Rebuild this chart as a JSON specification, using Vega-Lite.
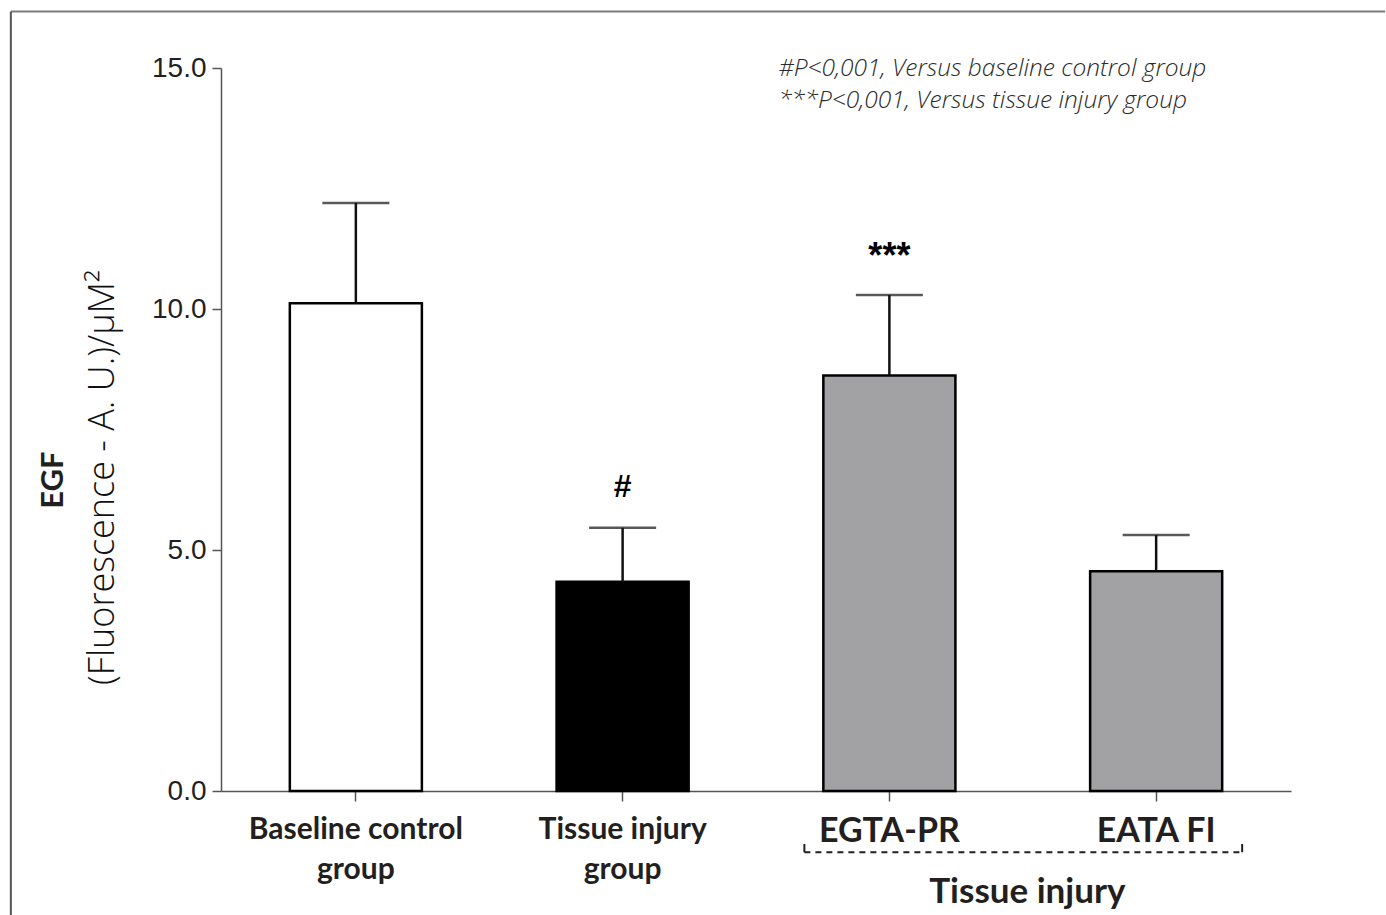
{
  "$schema": "https://vega.github.io/schema/vega-lite/v6.json",
  "width": 1070,
  "height": 723,
  "autosize": {"type": "none"},
  "padding": {"left": 221, "top": 68, "right": 95, "bottom": 124},
  "background": "white",
  "config": {"view": {"stroke": null}},
  "datasets": {
    "bars": [
      {"group": "Baseline control group", "mean": 10.12, "upper": 12.2, "sig": ""},
      {"group": "Tissue injury group", "mean": 4.34, "upper": 5.46, "sig": "#"},
      {"group": "EGTA-PR", "mean": 8.62, "upper": 10.29, "sig": "***"},
      {"group": "EATA FI", "mean": 4.56, "upper": 5.31, "sig": ""}
    ],
    "notes": [
      {"line": 1, "note": "#P<0,001, Versus baseline control group"},
      {"line": 2, "note": "***P<0,001, Versus tissue injury group"}
    ],
    "bracket": [
      {"from": "EGTA-PR", "to": "EATA FI", "label": "Tissue injury"}
    ],
    "frame": [
      {"from": "Baseline control group", "to": "EATA FI", "label": "EGF"}
    ]
  },
  "encoding": {
    "x": {
      "field": "group",
      "type": "nominal",
      "sort": ["Baseline control group", "Tissue injury group", "EGTA-PR", "EATA FI"],
      "scale": {"domain": ["Baseline control group", "Tissue injury group", "EGTA-PR", "EATA FI"], "paddingInner": 0.505, "paddingOuter": 0.258},
      "axis": {
        "title": null,
        "labelAngle": 0,
        "labelLimit": 0,
        "labelExpr": "datum.value == 'Baseline control group' ? ['Baseline control', 'group'] : datum.value == 'Tissue injury group' ? ['Tissue injury', 'group'] : datum.value",
        "labelFont": "Lato",
        "labelFontWeight": "bold",
        "labelFontSize": {"condition": {"test": "datum.value == 'EGTA-PR' || datum.value == 'EATA FI'", "value": 34}, "value": 30},
        "labelColor": "#231f20",
        "labelLineHeight": 40,
        "labelPadding": 13,
        "labelBaseline": "top",
        "domainColor": "#555555",
        "domainWidth": 1.5,
        "tickColor": "#555555",
        "tickWidth": 1.5,
        "tickSize": 10,
        "grid": false
      }
    }
  },
  "layer": [
    {
      "data": {"name": "frame"},
      "mark": {"type": "rule", "stroke": "#7a7a7a", "strokeWidth": 2, "xOffset": -345, "x2Offset": 229},
      "encoding": {
        "x": {"field": "from", "type": "nominal"},
        "x2": {"field": "to"},
        "y": {"datum": 16.17}
      }
    },
    {
      "data": {"name": "frame"},
      "mark": {"type": "rule", "stroke": "#555555", "strokeWidth": 2, "xOffset": -345},
      "encoding": {
        "x": {"field": "from", "type": "nominal"},
        "y": {"datum": 16.17},
        "y2": {"datum": -2.6}
      }
    },
    {
      "data": {"name": "frame"},
      "mark": {"type": "text", "font": "Lato", "fontWeight": "bold", "fontSize": 31, "color": "#231f20", "angle": 270, "align": "center", "baseline": "middle", "xOffset": -302},
      "encoding": {
        "x": {"field": "from", "type": "nominal"},
        "y": {"datum": 6.45},
        "text": {"field": "label"}
      }
    },
    {
      "data": {"name": "bars"},
      "mark": {"type": "bar", "stroke": "#000000", "strokeWidth": 2.5},
      "encoding": {
        "y": {
          "field": "mean",
          "type": "quantitative",
          "scale": {"domain": [0, 15], "nice": false},
          "axis": {
            "title": "(Fluorescence - A. U.)/µM²",
            "titleFont": "Open Sans",
            "titleFontSize": 36,
            "titleFontWeight": 300,
            "titleColor": "#111111",
            "titlePadding": 30,
            "titleY": 409,
            "values": [0, 5, 10, 15],
            "format": ".1f",
            "labelFont": "Liberation Sans",
            "labelFontSize": 28,
            "labelColor": "#231f20",
            "labelPadding": 6,
            "tickSize": 9,
            "tickColor": "#555555",
            "tickWidth": 1.5,
            "domainColor": "#555555",
            "domainWidth": 1.5,
            "grid": false
          }
        },
        "color": {
          "field": "group",
          "type": "nominal",
          "scale": {"domain": ["Baseline control group", "Tissue injury group", "EGTA-PR", "EATA FI"], "range": ["#ffffff", "#000000", "#a2a2a5", "#a2a2a5"]},
          "legend": null
        }
      }
    },
    {
      "data": {"name": "bars"},
      "mark": {"type": "rule", "stroke": "#111111", "strokeWidth": 2.5},
      "encoding": {
        "y": {"field": "mean", "type": "quantitative"},
        "y2": {"field": "upper"}
      }
    },
    {
      "data": {"name": "bars"},
      "mark": {"type": "tick", "color": "#111111", "size": 67, "thickness": 2.5, "orient": "horizontal"},
      "encoding": {
        "y": {"field": "upper", "type": "quantitative"}
      }
    },
    {
      "data": {"name": "bars"},
      "transform": [{"filter": "datum.sig == '#'"}],
      "mark": {"type": "text", "font": "Liberation Sans", "fontWeight": "bold", "fontSize": 32, "color": "#000000", "baseline": "alphabetic", "dy": -31},
      "encoding": {
        "y": {"field": "upper", "type": "quantitative"},
        "text": {"field": "sig"}
      }
    },
    {
      "data": {"name": "bars"},
      "transform": [{"filter": "datum.sig == '***'"}],
      "mark": {"type": "text", "font": "Liberation Sans", "fontWeight": "bold", "fontSize": 36, "color": "#000000", "baseline": "alphabetic", "dy": -27},
      "encoding": {
        "y": {"field": "upper", "type": "quantitative"},
        "text": {"field": "sig"}
      }
    },
    {
      "data": {"name": "notes"},
      "transform": [{"filter": "datum.line == 1"}],
      "mark": {"type": "text", "font": "Open Sans", "fontStyle": "italic", "fontWeight": 300, "fontSize": 24.5, "color": "#2a2a2a", "align": "left", "baseline": "middle", "xOffset": -111},
      "encoding": {
        "x": {"datum": "EGTA-PR"},
        "y": {"datum": 14.98},
        "text": {"field": "note"}
      }
    },
    {
      "data": {"name": "notes"},
      "transform": [{"filter": "datum.line == 2"}],
      "mark": {"type": "text", "font": "Open Sans", "fontStyle": "italic", "fontWeight": 300, "fontSize": 24.5, "color": "#2a2a2a", "align": "left", "baseline": "middle", "xOffset": -111},
      "encoding": {
        "x": {"datum": "EGTA-PR"},
        "y": {"datum": 14.31},
        "text": {"field": "note"}
      }
    },
    {
      "data": {"name": "bracket"},
      "mark": {"type": "rule", "stroke": "#231f20", "strokeWidth": 2, "strokeDash": [6, 5], "xOffset": -85, "x2Offset": 86},
      "encoding": {
        "x": {"field": "from", "type": "nominal"},
        "x2": {"field": "to"},
        "y": {"datum": -1.27}
      }
    },
    {
      "data": {"name": "bracket"},
      "mark": {"type": "rule", "stroke": "#231f20", "strokeWidth": 2, "xOffset": -85},
      "encoding": {
        "x": {"field": "from", "type": "nominal"},
        "y": {"datum": -1.27},
        "y2": {"datum": -1.1}
      }
    },
    {
      "data": {"name": "bracket"},
      "mark": {"type": "rule", "stroke": "#231f20", "strokeWidth": 2, "xOffset": 86},
      "encoding": {
        "x": {"field": "to", "type": "nominal"},
        "y": {"datum": -1.27},
        "y2": {"datum": -1.1}
      }
    },
    {
      "data": {"name": "bracket"},
      "mark": {"type": "text", "font": "Lato", "fontWeight": "bold", "fontSize": 35, "color": "#231f20", "baseline": "middle", "xOffset": 138},
      "encoding": {
        "x": {"field": "from", "type": "nominal"},
        "y": {"datum": -2.1},
        "text": {"field": "label"}
      }
    }
  ]
}
